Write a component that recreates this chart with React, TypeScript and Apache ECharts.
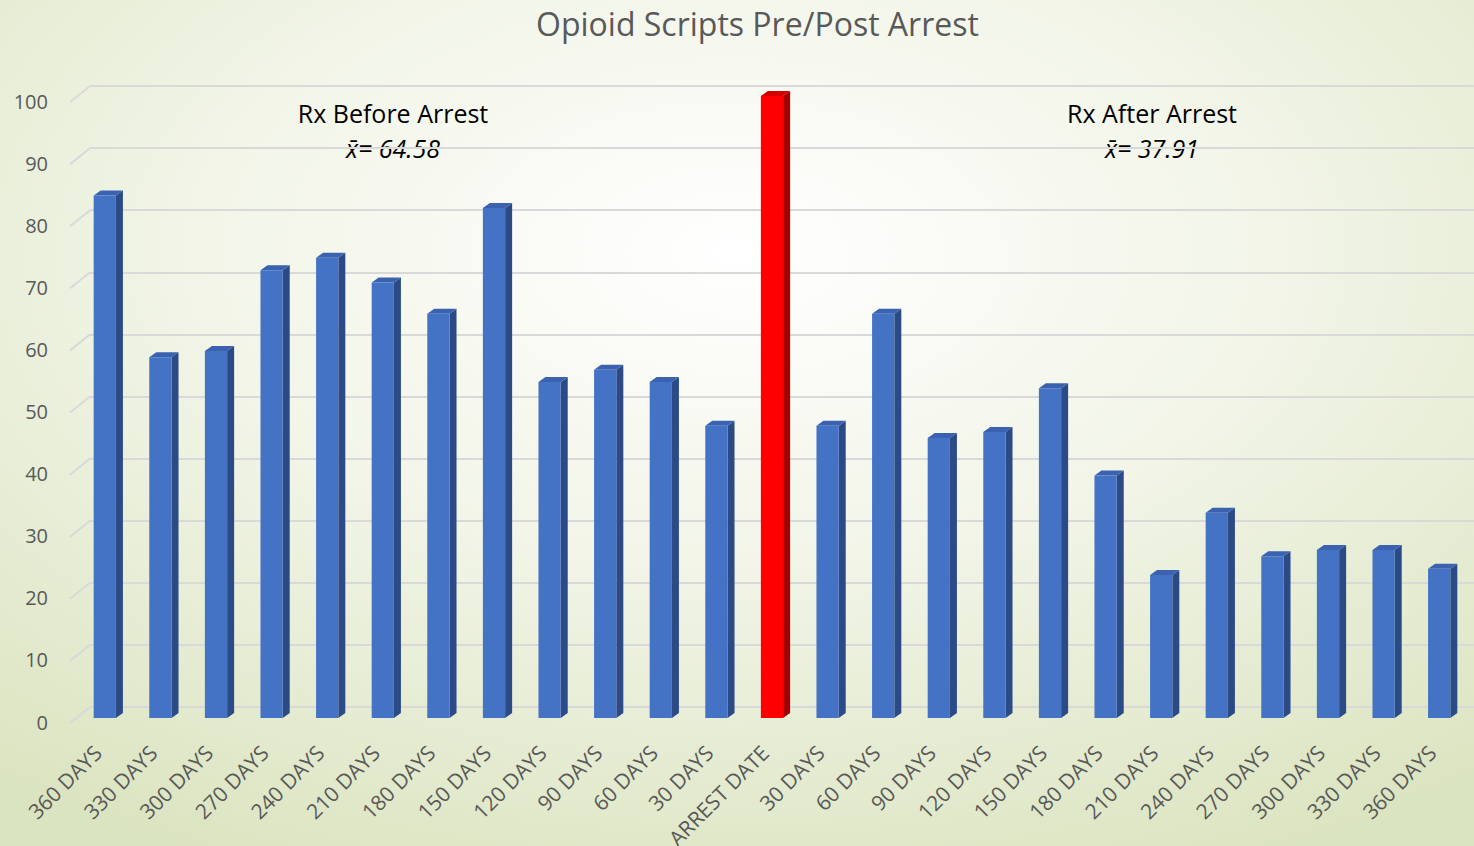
import React, { useEffect, useRef } from "react";
import * as echarts from "echarts";

const categories = [
  "360 DAYS", "330 DAYS", "300 DAYS", "270 DAYS", "240 DAYS", "210 DAYS",
  "180 DAYS", "150 DAYS", "120 DAYS", "90 DAYS", "60 DAYS", "30 DAYS",
  "ARREST DATE",
  "30 DAYS", "60 DAYS", "90 DAYS", "120 DAYS", "150 DAYS", "180 DAYS",
  "210 DAYS", "240 DAYS", "270 DAYS", "300 DAYS", "330 DAYS", "360 DAYS",
];
const scripts = [84, 58, 59, 72, 74, 70, 65, 82, 54, 56, 54, 47, 100, 47, 65, 45, 46, 53, 39, 23, 33, 26, 27, 27, 24];
const highlightIndex = 12;
const yTicks = [0, 10, 20, 30, 40, 50, 60, 70, 80, 90, 100];
const beforeLabel = "Rx Before Arrest";
const beforeMean = "x\u0304= 64.58";
const afterLabel = "Rx After Arrest";
const afterMean = "x\u0304= 37.91";

export default function App() {
  const ref = useRef<HTMLDivElement>(null);
  useEffect(() => {
    if (!ref.current) return;
    const chart = echarts.init(ref.current, null, { renderer: "svg" });
    const font = "'Open Sans', sans-serif";
    chart.setOption({
      animation: false,
      backgroundColor: new echarts.graphic.RadialGradient(0.5, 0.3, 0.8, [
        { offset: 0, color: "#ffffff" },
        { offset: 0.45, color: "#f2f5e8" },
        { offset: 1, color: "#dbe4c0" },
      ]),
      title: {
        text: "Opioid Scripts Pre/Post Arrest",
        left: 531,
        top: 2,
        textStyle: { fontFamily: font, fontSize: 32, fontWeight: "normal", color: "#595959" },
      },
      grid: [
        { left: 77, right: 7, top: 96, bottom: 128, outerBoundsMode: "none", containLabel: false },
        { left: 90, right: 0, top: 86, bottom: 139, outerBoundsMode: "none", containLabel: false },
        { left: 70, right: 0, top: 101, bottom: 124, outerBoundsMode: "none", containLabel: false },
      ],
      xAxis: [
        {
          type: "category",
          gridIndex: 0,
          data: categories,
          axisLine: { show: false },
          axisTick: { show: false },
          axisLabel: {
            interval: 0,
            rotate: 45,
            margin: 24,
            padding: [0, 10, 0, 0],
            fontFamily: font,
            fontSize: 21,
            color: "#595959",
          },
        },
        { type: "value", gridIndex: 1, min: 0, max: 1, show: false },
        { type: "value", gridIndex: 2, min: 0, max: 1, show: false },
      ],
      yAxis: [
        { type: "value", gridIndex: 0, min: 0, max: 100, interval: 10, show: false },
        {
          type: "value",
          gridIndex: 1,
          min: 0,
          max: 100,
          interval: 10,
          axisLine: { show: false },
          axisTick: { show: false },
          axisLabel: { show: false },
          splitLine: { show: true, lineStyle: { color: "#d9d9d9", width: 2 } },
        },
        {
          type: "value",
          gridIndex: 2,
          min: 0,
          max: 100,
          interval: 10,
          axisLine: { show: false },
          axisTick: { show: false },
          splitLine: { show: false },
          axisLabel: { margin: 22, fontFamily: font, fontSize: 20, color: "#595959" },
        },
      ],
      series: [
        {
          type: "custom",
          xAxisIndex: 1,
          yAxisIndex: 1,
          clip: false,
          silent: true,
          data: yTicks.map((v) => [0, v]),
          renderItem: (params: any, api: any) => {
            const p = api.coord([0, api.value(1)]);
            return {
              type: "polyline",
              shape: { points: [[p[0] - 20, p[1] + 16], [p[0], p[1]]] },
              style: { stroke: "#d9d9d9", lineWidth: 2, fill: "none" },
            };
          },
        },
        {
          type: "custom",
          xAxisIndex: 0,
          yAxisIndex: 0,
          clip: false,
          data: scripts.map((v, i) => [i, v]),
          renderItem: (params: any, api: any) => {
            const i = api.value(0);
            const top = api.coord([i, api.value(1)]);
            const base = api.coord([i, 0]);
            const w = api.size([1, 0])[0] * 0.4;
            const x0 = top[0] - w / 2;
            const x1 = top[0] + w / 2;
            const dx = 7;
            const dy = 5;
            const hot = i === highlightIndex;
            const front = hot ? "#ff0000" : "#4472c4";
            const side = hot ? "#a50000" : "#2c4a85";
            const cap = hot ? "#d40000" : "#3a62b0";
            return {
              type: "group",
              children: [
                {
                  type: "polygon",
                  shape: { points: [[x1, top[1]], [x1 + dx, top[1] - dy], [x1 + dx, base[1] - dy], [x1, base[1]]] },
                  style: { fill: side },
                },
                {
                  type: "polygon",
                  shape: { points: [[x0, top[1]], [x0 + dx, top[1] - dy], [x1 + dx, top[1] - dy], [x1, top[1]]] },
                  style: { fill: cap },
                },
                {
                  type: "rect",
                  shape: { x: x0, y: top[1], width: w, height: base[1] - top[1] },
                  style: { fill: front },
                },
              ],
            };
          },
        },
      ],
      graphic: [
        {
          type: "text",
          x: 393,
          y: 113,
          style: { text: beforeLabel, fontFamily: font, fontSize: 25, fill: "#000000", align: "center", verticalAlign: "middle" },
        },
        {
          type: "text",
          x: 393,
          y: 148,
          style: { text: beforeMean, fontFamily: font, fontSize: 25, fontStyle: "italic", fill: "#000000", align: "center", verticalAlign: "middle" },
        },
        {
          type: "text",
          x: 1152,
          y: 113,
          style: { text: afterLabel, fontFamily: font, fontSize: 25, fill: "#000000", align: "center", verticalAlign: "middle" },
        },
        {
          type: "text",
          x: 1152,
          y: 148,
          style: { text: afterMean, fontFamily: font, fontSize: 25, fontStyle: "italic", fill: "#000000", align: "center", verticalAlign: "middle" },
        },
      ],
    });
    return () => chart.dispose();
  }, []);
  return (
    <div
      ref={ref}
      style={{ position: "absolute", left: 0, top: 0, width: 1474, height: 846 }}
    />
  );
}
